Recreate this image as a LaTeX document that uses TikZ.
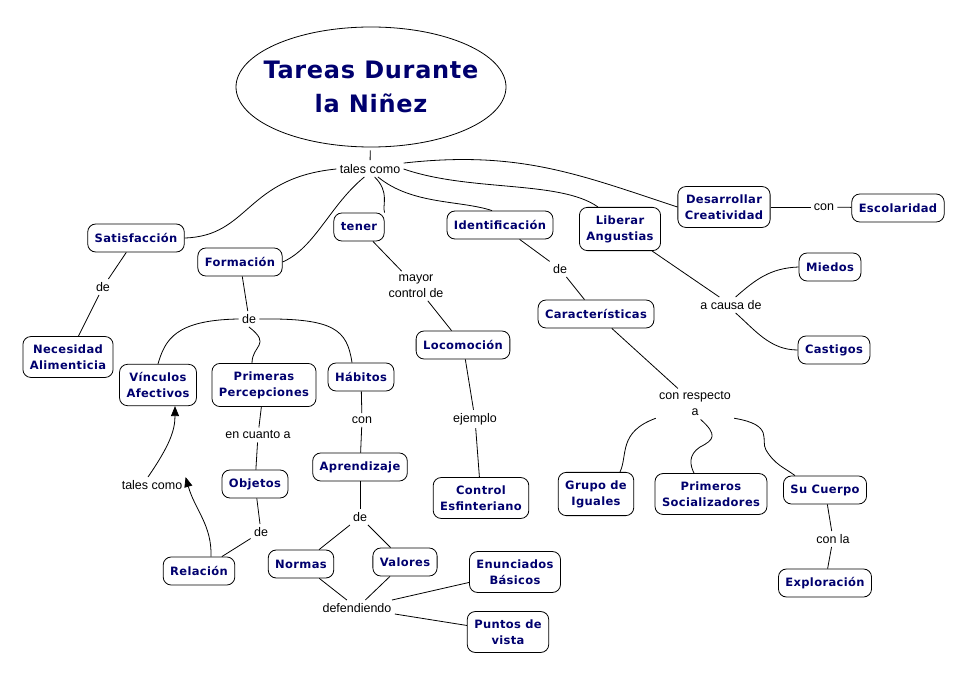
\documentclass[tikz,border=0pt]{standalone}
\usepackage{fontspec}
\setmainfont{Liberation Sans}
\newfontfamily\conceptfont{DejaVu Sans}[LetterSpace=3]
\usetikzlibrary{shapes.geometric,arrows.meta}
\definecolor{conceptblue}{RGB}{0,0,110}

\begin{document}
\begin{tikzpicture}[
x=1pt, y=-1pt,
line width=0.8pt,
concept/.style={draw, rounded corners=8pt, fill=white, align=center, text=conceptblue,
  font=\conceptfont\bfseries\fontsize{11.5}{16}\selectfont, inner xsep=7pt, inner ysep=8pt, minimum height=28pt},
linkword/.style={align=center, font=\fontsize{12.5}{16}\selectfont, inner sep=3pt},
tip/.style={-{Triangle[length=10pt,width=8pt]}}
]
\useasboundingbox (0,0) rectangle (970,676);

\node (title) [draw, ellipse, minimum width=270pt, minimum height=120pt, inner sep=0pt] at (371,87) {};
\node (titletext) [align=center, text=conceptblue, font=\conceptfont\bfseries\fontsize{24}{34}\selectfont]
  at (title.center) {Tareas Durante\\la Niñez};
\node (tales) [linkword] at (370,169) {tales como};

\node (satisf) [concept] at (136,238) {Satisfacción};
\node (formac) [concept] at (240,262) {Formación};
\node (tener) [concept] at (359,227) {tener};
\node (ident) [concept] at (500,225) {Identificación};
\node (liberar) [concept] at (620,229) {Liberar\\Angustias};
\node (desarr) [concept] at (724,207) {Desarrollar\\Creatividad};
\node (conE) [linkword] at (824,207) {con};
\node (escol) [concept] at (898,208) {Escolaridad};

\node (deNec) [linkword] at (103,287) {de};
\node (necesidad) [concept] at (68,357) {Necesidad\\Alimenticia};

\node (deForm) [linkword] at (249,319) {de};
\node (vinculos) [concept] at (158,385) {Vínculos\\Afectivos};
\node (primeras) [concept] at (264,385) {Primeras\\Percepciones};
\node (habitos) [concept] at (361,377) {Hábitos};
\node (cuanto) [linkword] at (258,435) {en cuanto a};
\node (conHab) [linkword] at (362,420) {con};
\node (objetos) [concept] at (255,484) {Objetos};
\node (aprend) [concept] at (360,467) {Aprendizaje};
\node (talesRel) [linkword] at (152,485) {tales como};
\node (deObj) [linkword] at (261,532) {de};
\node (deApr) [linkword] at (360,517) {de};
\node (relacion) [concept] at (199,571) {Relación};
\node (normas) [concept] at (301,564) {Normas};
\node (valores) [concept] at (405,562) {Valores};
\node (defend) [linkword] at (357,608) {defendiendo};
\node (enunc) [concept] at (515,572) {Enunciados\\Básicos};
\node (puntos) [concept] at (508,632) {Puntos de\\vista};

\node (mayor) [linkword] at (416,286) {mayor\\control de};
\node (locom) [concept] at (463,345) {Locomoción};
\node (ejemplo) [linkword] at (475,419) {ejemplo};
\node (control) [concept] at (481,498) {Control\\Esfinteriano};

\node (deIdent) [linkword] at (560,269) {de};
\node (caract) [concept] at (596,314) {Características};
\node (respecto) [linkword] at (695,404) {con respecto\\a};
\node (grupo) [concept] at (596,494) {Grupo de\\Iguales};
\node (primeros) [concept] at (711,494) {Primeros\\Socializadores};
\node (cuerpo) [concept] at (825,490) {Su Cuerpo};
\node (conla) [linkword] at (833,539) {con la};
\node (explor) [concept] at (825,583) {Exploración};

\node (causa) [linkword] at (731,305) {a causa de};
\node (miedos) [concept] at (830,267) {Miedos};
\node (castigos) [concept] at (834,350) {Castigos};

% from the title
\draw[shorten <=3pt, shorten >=1pt] (title) -- (tales);
\draw (tales.west) .. controls (245,178) and (250,236) .. (satisf.east);
\draw (tales.235) .. controls (330,205) and (315,248) .. (formac.east);
\draw (tales.300) .. controls (390,192) and (382,205) .. (tener.north east);
\draw (tales.315) .. controls (412,205) and (460,200) .. ([xshift=-8pt]ident.north);
\draw (tales.east) .. controls (470,192) and (560,180) .. ([xshift=-22pt]liberar.north);
\draw (tales.10) .. controls (520,150) and (580,175) .. (desarr.west);
\draw (desarr) -- (conE);
\draw (conE) -- (escol);

% left side
\draw (satisf) -- (deNec);
\draw (deNec) -- (necesidad);
\draw (formac) -- (deForm);
\draw (deForm.west) .. controls (175,320) and (165,340) .. (vinculos.north);
\draw (deForm.south) .. controls (272,345) and (252,345) .. ([xshift=-12pt]primeras.north);
\draw (deForm.east) .. controls (335,318) and (347,330) .. ([xshift=-9pt]habitos.north);
\draw (primeras) -- (cuanto);
\draw (cuanto) -- (objetos);
\draw (objetos) -- (deObj);
\draw (deObj) -- (relacion);
\draw[tip] ([xshift=12pt]relacion.north) .. controls (212,525) and (195,510) .. (talesRel.north east);
\draw[tip] ([xshift=-4pt]talesRel.north) .. controls (170,445) and (175,430) .. ([xshift=17pt]vinculos.south);
\draw (habitos) -- (conHab);
\draw (conHab) -- (aprend);
\draw (aprend) -- (deApr);
\draw (deApr) -- (normas);
\draw (deApr) -- (valores);
\draw (normas) -- (defend);
\draw (valores) -- (defend);
\draw (defend) -- (enunc);
\draw (defend) -- (puntos);

% middle
\draw (tener) -- (mayor);
\draw (mayor) -- (locom);
\draw (locom) -- (ejemplo);
\draw (ejemplo) -- (control);
\draw (ident) -- (deIdent);
\draw (deIdent) -- (caract);
\draw (caract) -- (respecto);
\draw (respecto.200) .. controls (618,432) and (628,455) .. ([xshift=24pt]grupo.north);
\draw (respecto.290) .. controls (718,435) and (714,440) .. (700,447) .. controls (688,455) and (690,465) .. ([xshift=-17pt]primeros.north);
\draw (respecto.340) .. controls (775,425) and (760,440) .. (766,450) .. controls (775,465) and (785,468) .. ([xshift=-30pt]cuerpo.north);
\draw (cuerpo) -- (conla);
\draw (conla) -- (explor);

% right side
\draw (liberar) -- (causa);
\draw (causa.60) .. controls (755,280) and (770,268) .. (miedos.west);
\draw (causa.300) .. controls (755,330) and (770,350) .. (castigos.west);

\end{tikzpicture}
\end{document}
